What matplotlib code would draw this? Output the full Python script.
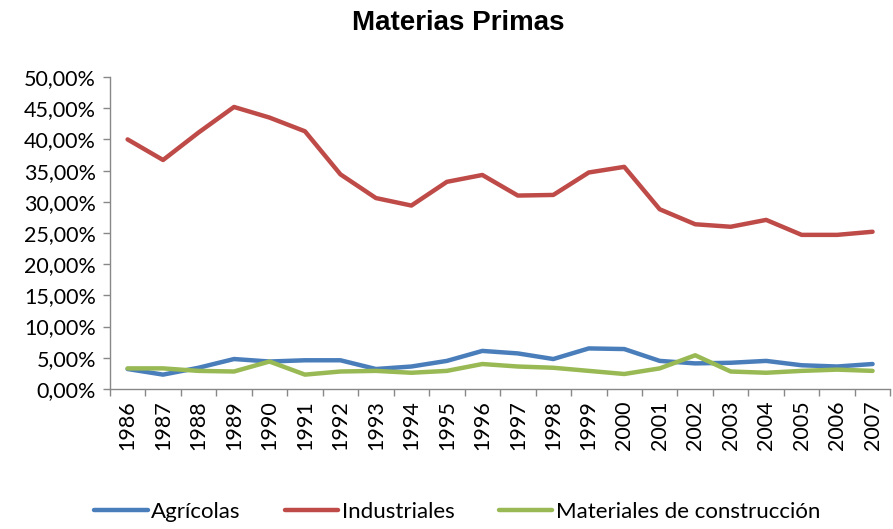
import matplotlib

matplotlib.use("Agg")

import matplotlib.pyplot as plt
from matplotlib.ticker import FuncFormatter, FixedLocator

years = [str(y) for y in range(1986, 2008)]

agricolas = [3.2, 2.3, 3.4, 4.8, 4.4, 4.6, 4.6, 3.2, 3.6, 4.5, 6.1,
             5.7, 4.8, 6.5, 6.4, 4.5, 4.1, 4.2, 4.5, 3.8, 3.6, 4.0]
industriales = [40.0, 36.7, 41.1, 45.2, 43.5, 41.3, 34.4, 30.6, 29.4, 33.2, 34.3,
                31.0, 31.1, 34.7, 35.6, 28.8, 26.4, 26.0, 27.1, 24.7, 24.7, 25.2]
construccion = [3.3, 3.3, 2.9, 2.8, 4.4, 2.3, 2.8, 2.9, 2.6, 2.9, 4.0,
                3.6, 3.4, 2.9, 2.4, 3.3, 5.4, 2.8, 2.6, 2.9, 3.1, 2.9]

series = [
    ("Agrícolas", agricolas, "#4A7EBB"),
    ("Industriales", industriales, "#BE4B48"),
    ("Materiales de construcción", construccion, "#98B954"),
]

plt.rcParams["font.family"] = ["Lato", "DejaVu Sans"]

fig = plt.figure(figsize=(8.93, 5.29), dpi=100)
ax = fig.add_axes([0.123, 0.2647, 0.874, 0.5897])

x = range(len(years))
for label, values, color in series:
    ax.plot(x, values, color=color, linewidth=3.2, label=label, solid_capstyle="round")

ax.set_xlim(-0.5, len(years) - 0.5)
ax.set_ylim(0, 50)
ax.set_yticks(range(0, 51, 5))
ax.yaxis.set_major_formatter(FuncFormatter(lambda v, _: f"{v:.2f}%".replace(".", ",")))

ax.set_xticks(list(x))
ax.set_xticklabels(years, rotation=90, fontsize=15.5)
ax.xaxis.set_minor_locator(FixedLocator([i - 0.5 for i in range(len(years) + 1)]))
ax.tick_params(axis="x", which="major", length=0, pad=8)
ax.tick_params(axis="x", which="minor", length=5, color="#888888", width=1)
ax.tick_params(axis="y", length=5, color="#888888", width=1, labelsize=15.5, pad=5)

for side in ["top", "right"]:
    ax.spines[side].set_visible(False)
for side in ["left", "bottom"]:
    ax.spines[side].set_color("#888888")
    ax.spines[side].set_linewidth(1)

fig.text(0.513, 0.957, "Materias Primas", ha="center", va="center",
         fontsize=20, fontweight="bold", family="Liberation Sans")

fig.legend(loc="center", bbox_to_anchor=(0.512, 0.032), ncol=3, frameon=False,
           fontsize=16, handlelength=2.4, handletextpad=0.15, columnspacing=2.0)

fig.savefig("out.png", dpi=100)
